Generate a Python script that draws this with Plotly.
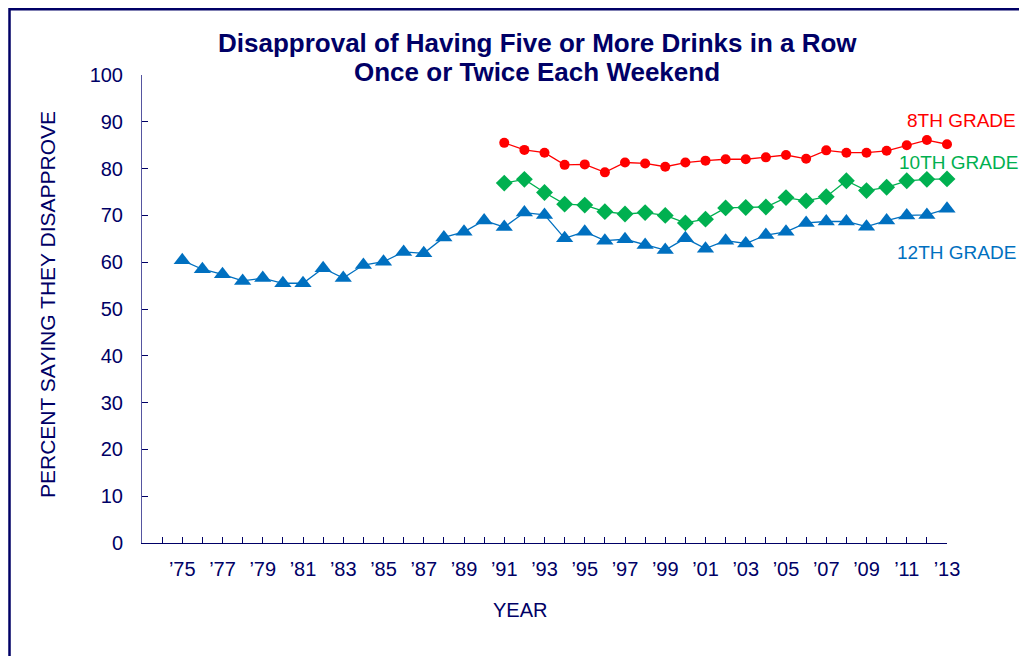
import plotly.graph_objects as go

# Data (percent saying they disapprove)
years_12 = list(range(1975, 2014))
grade12 = [60.4, 58.5, 57.4, 56.0, 56.6, 55.5, 55.5, 58.7, 56.6, 59.4,
           60.1, 62.2, 61.9, 65.3, 66.5, 68.9, 67.5, 70.6, 70.1, 65.1,
           66.5, 64.6, 64.9, 63.7, 62.6, 65.1, 62.9, 64.6, 64.0, 65.8,
           66.5, 68.4, 68.7, 68.7, 67.6, 68.9, 70.0, 70.1, 71.4]

years_8_10 = list(range(1991, 2014))
grade8 = [85.5, 84.0, 83.4, 80.8, 80.9, 79.2, 81.3, 81.1, 80.4, 81.3,
          81.7, 82.0, 82.0, 82.4, 82.9, 82.1, 83.9, 83.4, 83.4, 83.8,
          85.0, 86.1, 85.2]
grade10 = [76.9, 77.7, 74.9, 72.4, 72.2, 70.8, 70.3, 70.6, 70.0, 68.4,
           69.2, 71.6, 71.7, 71.8, 73.8, 73.1, 74.0, 77.4, 75.3, 76.0,
           77.4, 77.7, 77.8]

tick_years = list(range(1974, 2014))
tick_text = ["\u2019" + str(y)[2:] if y % 2 == 1 else "" for y in tick_years]

navy = "#000066"
red, green, blue = "#FF0000", "#00B050", "#0070C0"
font = "Liberation Sans, Arial, sans-serif"

# page has an 8px body margin; plot area in page pixels: x 142..947, y 75..543
OFF = 8
L, R, T, B = 142, 947, 75, 543


def px(x):
    return (x - L) / (R - L)


def py(y):
    return (B - y) / (B - T)


fig = go.Figure()
fig.add_trace(go.Scatter(x=years_12, y=grade12, mode="lines+markers", name="12TH GRADE",
                         line=dict(color=blue, width=1.3), cliponaxis=False,
                         marker=dict(symbol="triangle-up", size=15, color=blue)))
fig.add_trace(go.Scatter(x=years_8_10, y=grade10, mode="lines+markers", name="10TH GRADE",
                         line=dict(color=green, width=1.3), cliponaxis=False,
                         marker=dict(symbol="diamond", size=13, color=green)))
fig.add_trace(go.Scatter(x=years_8_10, y=grade8, mode="lines+markers", name="8TH GRADE",
                         line=dict(color=red, width=1.3), cliponaxis=False,
                         marker=dict(symbol="circle", size=10, color=red)))

# Series labels
labels = [("8TH GRADE", red, 905, 120), ("10TH GRADE", green, 897, 162), ("12TH GRADE", blue, 895, 252)]
for txt, col, lx, ly in labels:
    fig.add_annotation(x=px(lx), y=py(ly), xref="paper", yref="paper", text=txt,
                       xanchor="left", yanchor="middle", showarrow=False,
                       font=dict(color=col, size=19, family=font))

# Title (two lines, tighter spacing than <br>)
fig.add_annotation(x=px(537), y=py(43), xref="paper", yref="paper", xanchor="center", yanchor="middle",
                   text="<b>Disapproval of Having Five or More Drinks in a Row</b>", showarrow=False,
                   font=dict(color=navy, size=26, family=font))
fig.add_annotation(x=px(537), y=py(72), xref="paper", yref="paper", xanchor="center", yanchor="middle",
                   text="<b>Once or Twice Each Weekend</b>", showarrow=False,
                   font=dict(color=navy, size=26, family=font))

# Axis titles
fig.add_annotation(x=px(520), y=py(610), xref="paper", yref="paper", xanchor="center", yanchor="middle",
                   text="YEAR", showarrow=False, font=dict(color=navy, size=20, family=font))
fig.add_annotation(x=px(47), y=py(305), xref="paper", yref="paper", xanchor="center", yanchor="middle",
                   text="PERCENT SAYING THEY DISAPPROVE", textangle=-90, showarrow=False,
                   font=dict(color=navy, size=21, family=font))

# Outer border (as close to the page edge as the figure allows)
fig.add_shape(type="rect", xref="paper", yref="paper",
              x0=px(OFF + 1.5), x1=1.3, y0=-0.5, y1=py(OFF + 1.2),
              line=dict(color=navy, width=2.5))

fig.update_xaxes(range=[1973, 2013], tickvals=tick_years, ticktext=tick_text,
                 ticks="inside", ticklen=6, tickcolor=navy, showline=True, linecolor=navy,
                 showgrid=False, zeroline=False, ticklabelstandoff=8,
                 tickfont=dict(color=navy, size=20, family=font))
fig.update_yaxes(range=[0, 100], dtick=10, ticks="inside", ticklen=6, tickcolor=navy,
                 showline=True, linecolor="#5555a0", showgrid=False, zeroline=False,
                 ticklabelstandoff=14, tickfont=dict(color=navy, size=20, family=font))

W, H = 1027 - OFF, 656 - OFF
fig.update_layout(width=W, height=H, showlegend=False,
                  plot_bgcolor="#FFFFFF", paper_bgcolor="#FFFFFF",
                  margin=dict(l=L - OFF, r=W - (R - OFF), t=T - OFF, b=H - (B - OFF)))

fig.write_html("out.html")
